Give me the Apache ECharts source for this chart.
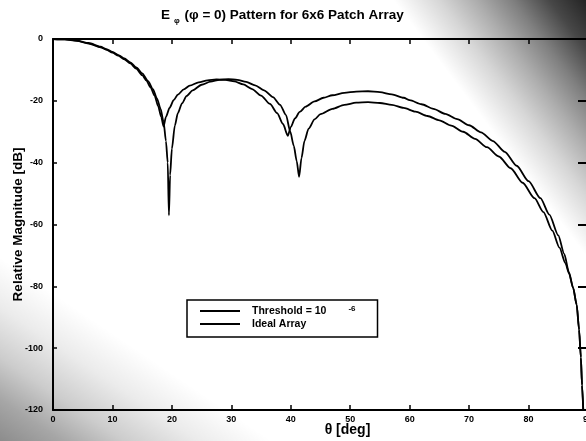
<!DOCTYPE html>
<html>
<head>
<meta charset="utf-8">
<script src="https://cdn.jsdelivr.net/npm/echarts@6/dist/echarts.min.js"></script>
<style>
  html, body { margin: 0; padding: 0; }
  #chart {
    width: 586px;
    height: 441px;
    /* scanned-page haze: dark in the upper right corner, grey in the lower left */
    background:
      linear-gradient(233deg,
        rgba(0,0,0,0.86) 0%, rgba(0,0,0,0.72) 4%, rgba(0,0,0,0.5) 8%,
        rgba(0,0,0,0.32) 12%, rgba(0,0,0,0.16) 16%, rgba(0,0,0,0) 21%),
      linear-gradient(214deg,
        rgba(0,0,0,0) 78%, rgba(0,0,0,0.08) 84%, rgba(0,0,0,0.2) 90%,
        rgba(0,0,0,0.35) 95%, rgba(0,0,0,0.45) 100%),
      #ffffff;
  }
</style>
</head>
<body>
<div id="chart"></div>
<script>
// Series labels as shown in the legend
const seriesNames = ['Threshold = 10^-6', 'Ideal Array'];

// Threshold = 10^-6 : theta [deg] and relative magnitude [dB]
const thetaThreshold = [0, 2, 4, 6, 8, 9, 10, 11, 12, 13, 14, 15, 15.7, 16.4, 17.1, 17.7, 18.2, 18.6,
  19.0, 19.6, 20.3, 21, 22, 23, 24.5, 26, 27.5, 29, 30.5, 32, 33.5, 35, 36.5, 37.7, 38.7, 39.5,
  40, 40.7, 41.5, 42.5, 44, 45.5, 47, 49, 51, 53, 55, 57, 59, 60, 62, 64, 66, 68, 70, 72, 74, 76,
  78, 80, 82, 83.5, 85, 86, 86.8, 87.5, 88.1, 88.5, 88.8, 89.0, 89.2];
const dbThreshold = [0, -0.1, -0.6, -1.5, -2.7, -3.5, -4.4, -5.4, -6.6, -7.9, -9.6, -11.7, -13.4, -15.6, -18.4, -21.8, -25.2, -28.3,
  -25.2, -22.3, -19.8, -18.0, -16.3, -15.1, -14.0, -13.4, -13.1, -13.2, -13.7, -14.7, -16.2, -18.3, -21.0, -24.0, -27.5, -31.3,
  -28.5, -25.7, -23.6, -21.9, -20.2, -19.0, -18.2, -17.4, -17.0, -16.9, -17.2, -17.9, -19.0, -19.8, -21.1, -22.6, -24.2, -25.9, -27.9, -30.2, -33.0, -36.5,
  -41.0, -46.0, -51.5, -56.8, -63.5, -69.5, -75.5, -80.5, -86, -94, -103, -112, -120];

// Ideal array : theta [deg] and relative magnitude [dB]
const thetaIdeal = [0, 2, 4, 6, 8, 9, 10, 11, 12, 13, 14, 15, 16, 16.8, 17.5, 18.1, 18.6, 19.0, 19.3, 19.5,
  19.7, 20.0, 20.5, 21, 21.7, 22.5, 23.5, 25, 26.5, 28, 29.5, 31, 32.5, 34, 35.5, 37, 38.2, 39.2, 39.9,
  40.5, 41, 41.4, 41.8, 42.3, 43, 44, 45, 47, 49, 51, 53, 55, 57, 59, 61, 63, 65, 67, 69, 71, 73, 75, 77,
  79, 81, 82.5, 84, 85.2, 86.2, 86.8, 87.5, 88.1, 88.5, 88.8, 89.0, 89.2];
const dbIdeal = [0, -0.1, -0.5, -1.3, -2.5, -3.3, -4.2, -5.2, -6.3, -7.6, -9.2, -11.1, -13.6, -16.2, -19.3, -22.6, -26.8, -33, -40, -57,
  -44, -35.5, -28, -24, -20.8, -18.4, -16.6, -14.8, -13.8, -13.2, -13.0, -13.2, -13.9, -15.0, -16.6, -18.8, -21.3, -24.6, -29.9,
  -34.5, -39.5, -44.6, -38.5, -33.0, -29.0, -26.0, -24.3, -22.6, -21.3, -20.6, -20.4, -20.7, -21.3, -22.3, -23.5, -24.9, -26.3, -28.0, -30.0, -32.3, -35.0, -38.0, -41.8,
  -46.5, -51.5, -56.0, -62.0, -67.5, -72.5, -75.8, -80.5, -86, -94, -103, -112, -120];

// Axis ranges and tick steps
const thetaRange = [0, 90];
const thetaStep = 10;
const dbRange = [-120, 0];
const dbStep = 20;

const FONT = '"Liberation Sans", Arial, Helvetica, sans-serif';

function pairs(xs, ys) {
  return xs.map((x, i) => [x, ys[i]]);
}

const frameLine = { show: true, onZero: false, lineStyle: { color: '#000', width: 2 } };
const boldSmall = { color: '#000', fontFamily: FONT, fontWeight: 'bold', fontSize: 9 };

const chart = echarts.init(document.getElementById('chart'), null, { renderer: 'canvas' });

chart.setOption({
  backgroundColor: 'transparent',
  animation: false,
  title: {
    text: '{e|E}{s|\u03c6}{e| (\u03c6 = 0) Pattern for 6x6 Patch Array}',
    left: 156,
    top: 1,
    textStyle: {
      fontFamily: FONT,
      fontWeight: 'bold',
      fontSize: 13.5,
      color: '#000',
      rich: {
        e: { fontFamily: FONT, fontWeight: 'bold', fontSize: 13.5, color: '#000', lineHeight: 19, verticalAlign: 'middle' },
        s: { fontFamily: FONT, fontWeight: 'bold', fontSize: 8, color: '#000', lineHeight: 19, verticalAlign: 'bottom', padding: [0, 1, 0, 4] }
      }
    }
  },
  legend: {
    data: seriesNames,
    orient: 'vertical',
    left: 187,
    top: 300,
    padding: [5, 22, 7, 13],
    itemGap: 2,
    itemWidth: 40,
    itemHeight: 2,
    icon: 'rect',
    borderColor: '#000',
    borderWidth: 1.5,
    borderRadius: 0,
    backgroundColor: 'transparent',
    itemStyle: { color: '#000' },
    formatter: function (name) {
      return name === seriesNames[0]
        ? '{t|Threshold = 10}{p|-6}'
        : '{t|Ideal Array}';
    },
    textStyle: {
      color: '#000',
      fontFamily: FONT,
      fontWeight: 'bold',
      fontSize: 10,
      rich: {
        t: { color: '#000', fontFamily: FONT, fontWeight: 'bold', fontSize: 10.5, lineHeight: 12, padding: [0, 0, 0, 7], verticalAlign: 'bottom' },
        p: { color: '#000', fontFamily: FONT, fontWeight: 'bold', fontSize: 8, lineHeight: 12, padding: [0, 0, 0, 22], verticalAlign: 'top' }
      }
    }
  },
  grid: { left: 53, top: 39, width: 535, height: 371, containLabel: false, outerBoundsMode: 'none' },
  xAxis: [
    {
      type: 'value',
      position: 'bottom',
      min: thetaRange[0], max: thetaRange[1], interval: thetaStep,
      axisLine: frameLine,
      axisTick: { show: true, inside: true, length: 5, lineStyle: { color: '#000', width: 1.5 } },
      axisLabel: Object.assign({ margin: 5, showMinLabel: true, showMaxLabel: true, hideOverlap: false }, boldSmall),
      splitLine: { show: false },
      name: '\u03b8 [deg]',
      nameLocation: 'middle',
      nameGap: 13,
      nameMoveOverlap: false,
      nameTextStyle: { color: '#000', fontFamily: FONT, fontWeight: 'bold', fontSize: 14, padding: [0, 0, 0, 54] }
    },
    {
      type: 'value',
      position: 'top',
      min: thetaRange[0], max: thetaRange[1], interval: thetaStep,
      axisLine: frameLine,
      axisTick: { show: true, inside: true, length: 5, lineStyle: { color: '#000', width: 1.5 } },
      axisLabel: { show: false },
      splitLine: { show: false }
    }
  ],
  yAxis: [
    {
      type: 'value',
      position: 'left',
      min: dbRange[0], max: dbRange[1], interval: dbStep,
      axisLine: frameLine,
      axisTick: { show: true, inside: true, length: 4, lineStyle: { color: '#000', width: 1.5 } },
      axisLabel: Object.assign({ margin: 10, showMinLabel: true, showMaxLabel: true }, boldSmall),
      splitLine: { show: false },
      name: 'Relative Magnitude [dB]',
      nameLocation: 'middle',
      nameGap: 28,
      nameMoveOverlap: false,
      nameTextStyle: { color: '#000', fontFamily: FONT, fontWeight: 'bold', fontSize: 13.5 }
    },
    {
      type: 'value',
      position: 'right',
      min: dbRange[0], max: dbRange[1], interval: dbStep,
      axisLine: frameLine,
      axisTick: { show: true, inside: true, length: 10, lineStyle: { color: '#000', width: 2 } },
      axisLabel: { show: false },
      splitLine: { show: false }
    }
  ],
  series: [
    {
      name: seriesNames[0],
      type: 'line',
      xAxisIndex: 0,
      yAxisIndex: 0,
      data: pairs(thetaThreshold, dbThreshold),
      showSymbol: false,
      symbol: 'none',
      smooth: 0.25,
      smoothMonotone: 'x',
      clip: true,
      lineStyle: { color: '#000', width: 1.8 },
      itemStyle: { color: '#000' }
    },
    {
      name: seriesNames[1],
      type: 'line',
      xAxisIndex: 0,
      yAxisIndex: 0,
      data: pairs(thetaIdeal, dbIdeal),
      showSymbol: false,
      symbol: 'none',
      smooth: 0.25,
      smoothMonotone: 'x',
      clip: true,
      lineStyle: { color: '#000', width: 1.8 },
      itemStyle: { color: '#000' }
    }
  ]
});
</script>
</body>
</html>
